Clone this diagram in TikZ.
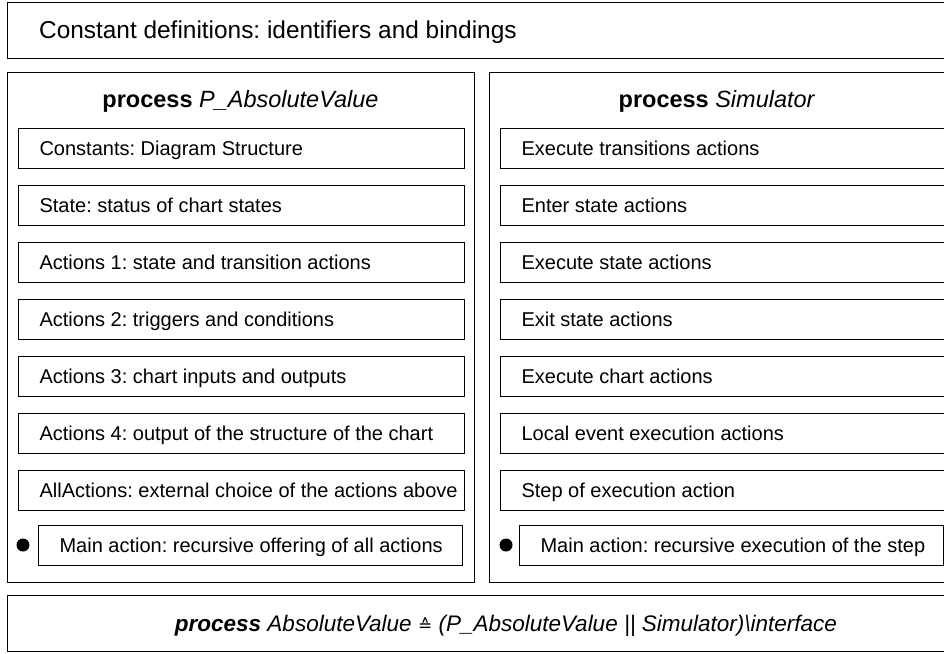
\documentclass[tikz,border=0pt]{standalone}
\usepackage{fontspec}
\setmainfont{Liberation Sans}
\newfontfamily\dejavu{DejaVu Sans}
\frenchspacing
\tikzset{
  frame/.style={draw=black, line width=1.1pt, inner sep=0pt, anchor=north west},
  ibox/.style={draw=black, line width=1.1pt, anchor=north west, minimum height=40pt,
    inner xsep=21pt, inner ysep=0pt, text height=14.3pt, text depth=0pt,
    font=\fontsize{20}{24}\selectfont},
  title/.style={font=\fontsize{23.5}{28}\selectfont, inner sep=0pt, anchor=base},
  bullet/.style={circle, fill=black, minimum size=13pt, inner sep=0pt},
}
\begin{document}
\begin{tikzpicture}[x=1pt, y=-1pt]
\useasboundingbox (0,0) rectangle (944,653);
\clip (0,0) rectangle (944,653);
% top box
\node[frame, minimum width=960pt, minimum height=56pt] (top) at (7,2) {};
\node[anchor=base west, inner sep=0pt, font=\fontsize{24.4}{29}\selectfont] (toptext) at (39,38.8) {Constant definitions: identifiers and bindings};
% panels
\node[frame, minimum width=467pt, minimum height=510pt] (lp) at (7,72) {};
\node[frame, minimum width=470pt, minimum height=510pt] (rp) at (489,72) {};
\node[title] (lt) at (240.5,107) {\textbf{process} \textit{P\_AbsoluteValue}};
\node[title] (rt) at (717,107) {\textbf{process} \textit{Simulator}};
% left inner boxes
\node[ibox] (l1) at (18,128) {\makebox[404pt][l]{Constants: Diagram Structure}};
\node[ibox] (l2) at (18,185) {\makebox[404pt][l]{State: status of chart states}};
\node[ibox] (l3) at (18,242) {\makebox[404pt][l]{Actions 1: state and transition actions}};
\node[ibox] (l4) at (18,299) {\makebox[404pt][l]{Actions 2: triggers and conditions}};
\node[ibox] (l5) at (18,356) {\makebox[404pt][l]{Actions 3: chart inputs and outputs}};
\node[ibox] (l6) at (18,413) {\makebox[404pt][l]{Actions 4: output of the structure of the chart}};
\node[ibox] (l7) at (18,470) {\makebox[404pt][l]{AllActions: external choice of the actions above}};
\node[ibox] (lm) at (38,525) {\makebox[382pt][l]{Main action: recursive offering of all actions}};
\node[bullet] (ld) at (23,545) {};
% right inner boxes
\node[ibox] (r1) at (500,128) {\makebox[420pt][l]{Execute transitions actions}};
\node[ibox] (r2) at (500,185) {\makebox[420pt][l]{Enter state actions}};
\node[ibox] (r3) at (500,242) {\makebox[420pt][l]{Execute state actions}};
\node[ibox] (r4) at (500,299) {\makebox[420pt][l]{Exit state actions}};
\node[ibox] (r5) at (500,356) {\makebox[420pt][l]{Execute chart actions}};
\node[ibox] (r6) at (500,413) {\makebox[420pt][l]{Local event execution actions}};
\node[ibox] (r7) at (500,470) {\makebox[420pt][l]{Step of execution action}};
\node[ibox] (rm) at (519,525) {\makebox[382pt][l]{Main action: recursive execution of the step}};
\node[bullet] (rd) at (506,545) {};
% bottom box
\node[frame, minimum width=960pt, minimum height=56pt] (bot) at (7,595) {};
\node[inner sep=0pt, anchor=base, font=\fontsize{22.5}{27}\selectfont] (bottext) at (506,631)
  {\textbf{\textit{process}} \textit{AbsoluteValue} {\dejavu\fontsize{17}{20}\selectfont ≙} \textit{(P\_AbsoluteValue || Simulator)\textbackslash interface}};
\end{tikzpicture}
\end{document}
